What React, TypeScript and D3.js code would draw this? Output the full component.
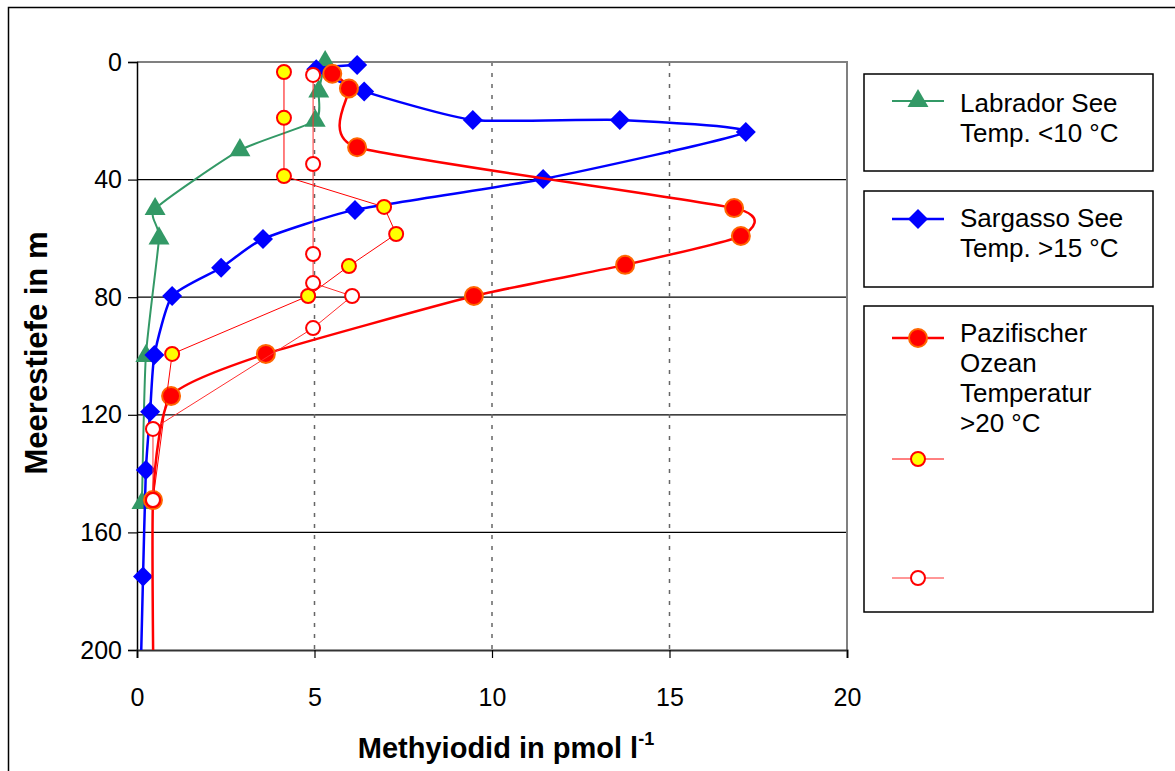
import React, { useEffect, useRef } from "react";
import * as d3 from "d3";

// Methyliodid-Profile: Konzentration (pmol/l) gegen Tiefe (m)
const depthTicks = [0, 40, 80, 120, 160, 200];
const concTicks = [0, 5, 10, 15, 20];

const labradorConc = [5.3, 5.12, 5.02, 2.9, 0.51, 0.62, 0.25, 0.14];
const labradorDepth = [0, 10, 20, 30, 50, 60, 100, 150];

const sargassoConc = [6.2, 5.05, 6.4, 9.46, 13.6, 17.15, 11.44, 6.14, 3.55, 2.37, 0.99, 0.49, 0.37, 0.25, 0.17, 0.02];
const sargassoDepth = [1, 2.5, 10, 19.7, 19.7, 23.8, 39.8, 50.3, 60.2, 70, 79.6, 99.7, 119, 138.8, 175, 250];

const pazifikConc = [5.5, 5.97, 6.2, 16.82, 17.01, 13.75, 9.49, 3.63, 0.96, 0.45, 0.5];
const pazifikDepth = [4, 9, 29, 49.7, 59.2, 69, 79.6, 99.3, 113.6, 149, 250];

const pazifik2Conc = [4.14, 4.14, 4.14, 6.96, 7.3, 5.97, 4.82, 0.99, 0.45];
const pazifik2Depth = [3.4, 19, 38.8, 49.3, 58.5, 69.4, 79.6, 99.3, 149];

const pazifik3Conc = [4.96, 4.96, 4.96, 4.96, 6.06, 4.96, 0.45, 0.45];
const pazifik3Depth = [4.4, 34.7, 65.3, 75.2, 79.6, 90.5, 124.8, 149];

const legendLabels = [
    ["Labrador See", "Temp. <10 °C"],
    ["Sargasso See", "Temp. >15 °C"],
    ["Pazifischer", "Ozean", "Temperatur", ">20 °C"],
];

const W = 1175, H = 771;
const plot = { left: 137, top: 62, right: 847, bottom: 650 };
const font = "Liberation Sans, Arial, sans-serif";

const zip = (a: number[], b: number[]) => a.map((v, i) => [v, b[i]] as [number, number]);

const series = [
    { pts: zip(labradorConc, labradorDepth), color: "#339966", width: 2, smooth: true, marker: "triangle" },
    { pts: zip(sargassoConc, sargassoDepth), color: "#0000ff", width: 2.5, smooth: true, marker: "diamond" },
    { pts: zip(pazifikConc, pazifikDepth), color: "#ff0000", width: 2.5, smooth: true, marker: "bigCircle" },
    { pts: zip(pazifik2Conc, pazifik2Depth), color: "#ff0000", width: 1, smooth: false, marker: "yellowCircle" },
    { pts: zip(pazifik3Conc, pazifik3Depth), color: "#ff3030", width: 1, smooth: false, marker: "openCircle" },
];

const drawMarker = (g: any, kind: string, cx: number, cy: number) => {
    if (kind === "triangle") {
        g.append("path")
            .attr("d", d3.symbol(d3.symbolTriangle, 190)())
            .attr("transform", `translate(${cx},${cy})`)
            .attr("fill", "#339966");
    } else if (kind === "diamond") {
        g.append("path")
            .attr("d", d3.symbol(d3.symbolSquare, 200)())
            .attr("transform", `translate(${cx},${cy}) rotate(45)`)
            .attr("fill", "#0000ff");
    } else if (kind === "bigCircle") {
        g.append("circle").attr("cx", cx).attr("cy", cy).attr("r", 9)
            .attr("fill", "#ff0000").attr("stroke", "#ff6600").attr("stroke-width", 2);
    } else if (kind === "yellowCircle") {
        g.append("circle").attr("cx", cx).attr("cy", cy).attr("r", 7)
            .attr("fill", "#ffff00").attr("stroke", "#ff0000").attr("stroke-width", 2);
    } else {
        g.append("circle").attr("cx", cx).attr("cy", cy).attr("r", 7)
            .attr("fill", "#ffffff").attr("stroke", "#ff0000").attr("stroke-width", 2);
    }
};

const App = () => {
    const ref = useRef<SVGSVGElement>(null);

    useEffect(() => {
        if (!ref.current) return;
        const svg = d3.select(ref.current);
        svg.selectAll("*").remove();

        const x = d3.scaleLinear().domain([0, 20]).range([plot.left, plot.right]);
        const y = d3.scaleLinear().domain([0, 200]).range([plot.top, plot.bottom]);

        // outer chart frame
        svg.append("rect").attr("x", 8.5).attr("y", 7.5).attr("width", 1200).attr("height", 800)
            .attr("fill", "#fff").attr("stroke", "#000").attr("stroke-width", 1.5);

        svg.append("clipPath").attr("id", "plotclip").append("rect")
            .attr("x", plot.left).attr("y", plot.top)
            .attr("width", plot.right - plot.left).attr("height", plot.bottom - plot.top);

        // grid
        svg.append("g").selectAll("line").data(depthTicks.slice(1, -1)).join("line")
            .attr("x1", plot.left).attr("x2", plot.right)
            .attr("y1", (d) => y(d)).attr("y2", (d) => y(d))
            .attr("stroke", "#000").attr("stroke-width", 1.2);
        svg.append("g").selectAll("line").data(concTicks.slice(1, -1)).join("line")
            .attr("x1", (d) => x(d)).attr("x2", (d) => x(d))
            .attr("y1", plot.top).attr("y2", plot.bottom)
            .attr("stroke", "#666").attr("stroke-width", 1.5).attr("stroke-dasharray", "4,7");

        // plot frame
        svg.append("path")
            .attr("d", `M${plot.left},${plot.top}H${plot.right}V${plot.bottom}`)
            .attr("fill", "none").attr("stroke", "#808080").attr("stroke-width", 2);

        // axes
        const yAxis = d3.axisLeft(y).tickValues(depthTicks).tickSize(9).tickPadding(6);
        const xAxis = d3.axisBottom(x).tickValues(concTicks).tickSize(8).tickPadding(30);

        const gy = svg.append("g").attr("transform", `translate(${plot.left},0)`).call(yAxis);
        const gx = svg.append("g").attr("transform", `translate(0,${plot.bottom})`).call(xAxis);
        [gy, gx].forEach((g) => {
            g.select(".domain").attr("stroke", "#000").attr("stroke-width", 1.5);
            g.selectAll(".tick line").attr("stroke", "#000").attr("stroke-width", 1.2);
            g.selectAll("text").attr("font-family", font).attr("font-size", 25).attr("fill", "#000");
        });
        gx.select(".domain").attr("stroke", "#333").attr("stroke-width", 2);

        // titles
        const xt = svg.append("text").attr("x", 506).attr("y", 758).attr("text-anchor", "middle")
            .attr("font-family", font).attr("font-size", 29).attr("font-weight", "bold");
        xt.append("tspan").text("Methyiodid in pmol l");
        xt.append("tspan").attr("dy", -13).attr("font-size", 18).text("-1");

        svg.append("text").attr("transform", `translate(47,353) rotate(-90)`)
            .attr("text-anchor", "middle")
            .attr("font-family", font).attr("font-size", 31).attr("font-weight", "bold")
            .text("Meerestiefe in m");

        // series
        series.forEach((s) => {
            const line = d3.line<[number, number]>()
                .x((d) => x(d[0])).y((d) => y(d[1]))
                .curve(s.smooth ? d3.curveCardinal.tension(0.45) : d3.curveLinear);
            const g = svg.append("g");
            g.append("path").attr("d", line(s.pts)).attr("clip-path", "url(#plotclip)")
                .attr("fill", "none").attr("stroke", s.color).attr("stroke-width", s.width);
            s.pts.filter((p) => p[1] <= 200).forEach((p) => drawMarker(g, s.marker, x(p[0]), y(p[1])));
        });

        // legend
        const boxes = [
            { y0: 74, h: 97, items: [{ s: 0, my: 101 }], lines: legendLabels[0], ty: 112 },
            { y0: 191, h: 96, items: [{ s: 1, my: 219 }], lines: legendLabels[1], ty: 227 },
            { y0: 306, h: 306, items: [{ s: 2, my: 338 }, { s: 3, my: 459 }, { s: 4, my: 578 }], lines: legendLabels[2], ty: 342 },
        ];
        const lg = svg.append("g");
        boxes.forEach((b) => {
            lg.append("rect").attr("x", 864).attr("y", b.y0).attr("width", 289).attr("height", b.h)
                .attr("fill", "#fff").attr("stroke", "#000").attr("stroke-width", 1.5);
            b.items.forEach((it) => {
                const s = series[it.s];
                lg.append("line").attr("x1", 892).attr("x2", 944).attr("y1", it.my).attr("y2", it.my)
                    .attr("stroke", s.color).attr("stroke-width", s.width);
                drawMarker(lg, s.marker, 918, it.my);
            });
            b.lines.forEach((t, i) => {
                lg.append("text").attr("x", 960).attr("y", b.ty + i * 30)
                    .attr("font-family", font).attr("font-size", 26).text(t);
            });
        });
    }, []);

    return (
        <svg ref={ref} width={W} height={H}
             style={{ position: "absolute", left: 0, top: 0, background: "#fff" }}></svg>
    );
};

export default App;
